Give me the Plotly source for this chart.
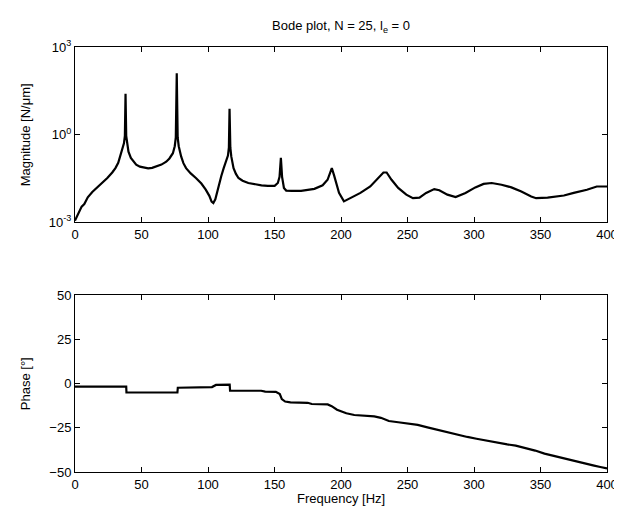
import plotly.graph_objects as go
from plotly.subplots import make_subplots

# ---------------- data ----------------
freq_mag = [0, 1, 3, 5, 7, 9.6, 13, 16.9, 20, 24.3, 28, 30.4, 32.5, 34.1, 35.7, 36.8, 37.5,
            38.0, 38.5, 39.2, 40.2, 42, 43.9, 46, 48.8, 52, 55.0, 58, 61.2, 65, 68.6, 71,
            73.6, 75.0, 75.8, 76.5, 77.2, 78, 79.8, 81.5, 83.5, 87, 90.9, 95, 98.3, 101,
            102.7, 104.0, 105.5, 108.1, 110, 111.8, 113.5, 115.0, 115.7, 116.2, 116.8,
            117.5, 119.2, 121, 122.9, 126, 130.3, 135, 140.2, 145, 150.1, 152.5, 153.8,
            154.8, 155.7, 157.1, 158.8, 163, 170, 180, 186.2, 189.9, 191.6, 193.1, 194.8,
            196.5, 198.5, 202.2, 207.2, 214.6, 222, 228.1, 231.9, 234.3, 238, 243, 249.1,
            254.1, 259, 264, 270.1, 273.9, 280, 286.2, 293.6, 301, 307.2, 313.3, 320.7,
            328.1, 335.6, 343, 346.7, 355.3, 367.6, 375, 384.9, 392.3, 400]
mag_log10 = [-2.95, -2.85, -2.62, -2.47, -2.38, -2.15, -1.97, -1.81, -1.70, -1.49, -1.30,
             -1.15, -0.97, -0.75, -0.50, -0.30, -0.05, 1.40, -0.05, -0.30, -0.59, -0.80,
             -0.93, -1.03, -1.10, -1.14, -1.16, -1.14, -1.10, -1.03, -0.93, -0.82, -0.64,
             -0.40, -0.10, 2.10, -0.10, -0.40, -0.75, -0.98, -1.15, -1.33, -1.49, -1.68,
             -1.89, -2.10, -2.30, -2.35, -2.22, -1.72, -1.42, -1.15, -0.93, -0.72, -0.45,
             0.88, -0.45, -0.75, -1.15, -1.35, -1.49, -1.58, -1.66, -1.71, -1.74, -1.76,
             -1.76, -1.66, -1.45, -0.80, -1.45, -1.83, -1.92, -1.93, -1.93, -1.86, -1.74,
             -1.55, -1.30, -1.15, -1.40, -1.72, -2.00, -2.29, -2.18, -2.00, -1.78, -1.49,
             -1.30, -1.30, -1.55, -1.83, -2.06, -2.18, -2.16, -2.00, -1.87, -1.91, -2.06,
             -2.14, -2.00, -1.81, -1.69, -1.66, -1.72, -1.81, -1.95, -2.12, -2.18, -2.16,
             -2.09, -2.00, -1.89, -1.78, -1.78]
magnitude = [10 ** v for v in mag_log10]

freq_phase = [0, 38.5, 38.7, 77.0, 77.3, 100, 103, 106, 110, 116.3, 116.6, 140, 143, 151,
              154, 155.5, 158, 162, 175, 178, 190, 193, 197, 204, 210, 218, 225, 230, 236,
              243, 250, 257.7, 265, 272.5, 280, 287.2, 295, 301.9, 310, 316.6, 325, 331.4,
              340, 346, 353, 360.8, 368, 375.5, 383, 390.3, 395, 400]
phase_deg = [-1.8, -1.8, -5.1, -5.1, -2.4, -2.4, -2.0, -0.8, -0.6, -0.6, -4.1, -4.1, -4.6,
             -4.7, -6.0, -8.8, -10.2, -10.7, -10.9, -11.6, -11.8, -12.8, -14.8, -16.8,
             -17.8, -18.3, -18.6, -19.4, -21.2, -21.9, -22.6, -23.4, -24.8, -26.2, -27.8,
             -29.0, -30.2, -31.2, -32.4, -33.3, -34.4, -35.1, -36.6, -37.9, -39.6, -41.1,
             -42.5, -43.9, -45.3, -46.4, -47.2, -48.0]

x_ticks = [0, 50, 100, 150, 200, 250, 300, 350, 400]
mag_ticks = [1e-3, 1e0, 1e3]
mag_tick_text = ["10<sup>-3</sup>", "10<sup>0</sup>", "10<sup>3</sup>"]
phase_ticks = [-50, -25, 0, 25, 50]

# ---------------- figure ----------------
FONT = "Liberation Sans, Arial, Helvetica, sans-serif"
fig = make_subplots(rows=2, cols=1)

fig.add_trace(go.Scatter(x=freq_mag, y=magnitude, mode="lines",
                         line=dict(color="black", width=2.2), showlegend=False), row=1, col=1)
fig.add_trace(go.Scatter(x=freq_phase, y=phase_deg, mode="lines",
                         line=dict(color="black", width=2.2), showlegend=False), row=2, col=1)

axis_common = dict(showline=True, linecolor="black", linewidth=1, mirror="ticks",
                   ticks="inside", ticklen=5, tickcolor="black", showgrid=False,
                   zeroline=False, tickfont=dict(family=FONT, size=13, color="black"))

fig.update_xaxes(range=[0, 400], tickvals=x_ticks, **axis_common)
fig.update_yaxes(type="log", range=[-3, 3], tickvals=mag_ticks, ticktext=mag_tick_text,
                 row=1, col=1, **axis_common)
fig.update_yaxes(range=[-50, 50], tickvals=phase_ticks, row=2, col=1, **axis_common)

fig.update_layout(
    width=622, height=510,
    margin=dict(l=67, r=15, t=39, b=46),
    paper_bgcolor="white", plot_bgcolor="white",
    font=dict(family=FONT, size=13, color="black"),
    xaxis=dict(domain=[0, 1]), yaxis=dict(domain=[0.588, 1]),
    xaxis2=dict(domain=[0, 1]), yaxis2=dict(domain=[0, 0.4165]),
    annotations=[
        dict(text="Bode plot, N = 25, l<sub>e</sub> = 0", xref="paper", yref="paper",
             x=0.5, y=1.048, showarrow=False, font=dict(family=FONT, size=13),
             xanchor="center", yanchor="middle"),
        dict(text="Magnitude [N/\u03bcm]", xref="paper", yref="paper",
             x=-0.0926, y=0.794, textangle=-90, showarrow=False,
             font=dict(family=FONT, size=13), xanchor="center", yanchor="middle"),
        dict(text="Phase [\u00b0]", xref="paper", yref="paper",
             x=-0.0926, y=0.2083, textangle=-90, showarrow=False,
             font=dict(family=FONT, size=13), xanchor="center", yanchor="middle"),
        dict(text="Frequency [Hz]", xref="paper", yref="paper",
             x=0.5, y=-0.063, showarrow=False,
             font=dict(family=FONT, size=13), xanchor="center", yanchor="middle"),
    ],
)

fig.write_html("out.html")
